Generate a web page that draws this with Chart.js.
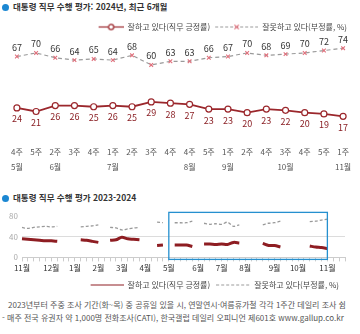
<!DOCTYPE html>
<html lang="ko">
<head>
<meta charset="utf-8">
<script src="https://cdn.jsdelivr.net/npm/chart.js@4.4.1/dist/chart.umd.min.js"></script>
<style>
  body { margin:0; width:360px; height:334px; background:#fff; position:relative; overflow:hidden;
         font-family:"Noto Sans CJK KR", sans-serif; }
  .ttl { position:absolute; left:2px; font-size:8.5px; color:#333; font-weight:600; white-space:nowrap; line-height:12px; }
  .ttl .dot { display:inline-block; width:7px; height:7px; border-radius:50%; background:#1b87d2; margin-right:4px; vertical-align:-1px; }
  #box1 { position:absolute; left:0; top:14px; width:360px; height:162px; }
  #box2 { position:absolute; left:0; top:205px; width:360px; height:94px; }
  .note { position:absolute; font-size:8px; color:#555; white-space:nowrap; line-height:11px; }
</style>
</head>
<body>
<div class="ttl" style="top:0px"><span class="dot"></span>대통령 직무 수행 평가: 2024년, 최근 6개월</div>
<div id="box1"><canvas id="recentChart"></canvas></div>
<div class="ttl" style="top:191px"><span class="dot"></span>대통령 직무 수행 평가 2023-2024</div>
<div id="box2"><canvas id="yearChart"></canvas></div>
<div class="note" style="left:8px; top:299px">2023년부터 주중 조사 기간(화~목) 중 공휴일 있을 시, 연말연시·여름휴가철 각각 1주간 데일리 조사 쉼</div>
<div class="note" style="left:2px; top:312px">- 매주 전국 유권자 약 1,000명 전화조사(CATI), 한국갤럽 데일리 오피니언 제601호 www.gallup.co.kr</div>
<script>
// 최근 6개월 (주 단위)
var weekLabels  = ['4주','5주','2주','3주','4주','1주','2주','3주','4주','4주','5주','1주','2주','4주','3주','4주','5주','1주'];
var monthLabels = ['5월','','6월','','','7월','','','','8월','','9월','','','10월','','','11월'];
var posRecent = [24,21,26,26,25,26,25,29,28,27,23,23,20,23,22,20,19,17];
var negRecent = [67,70,66,64,65,64,68,60,63,63,66,67,70,68,69,70,72,74];

// 2023.11 ~ 2024.11 주별 (조사 쉰 주는 null)
var yearMonths = ['11월','12월','1월','2월','3월','4월','5월','6월','7월','8월','9월','10월','11월'];
var weeksInMonth = [5,4,4,4,4,4,5,4,4,5,4,5,4];
var posYear = [36,35,34,33,32,32,31,null,null,null,34,33,31,29,null,33,34,39,36,35,34,null,null,23,24,null,
               24,24,24,21,null,26,26,25,26,25,29,28,null,null,null,27,23,23,20,null,23,null,null,22,20,19,17,null,null,null];
var negYear = [58,56,58,59,60,59,60,null,null,null,59,60,61,63,null,58,57,53,55,57,58,null,null,68,67,null,
               67,67,67,70,null,66,64,65,64,68,60,63,null,null,null,63,66,67,70,null,68,null,null,69,70,72,74,null,null,null];
var yTicks = [0,20,40,60,80];

var posLabel = '잘하고 있다(직무 긍정률)';
var negLabel = '잘못하고 있다(부정률, %)';

var RED = '#9b272c';
var GRAY = '#9a9a9a';
var PINK = '#e0707c';

Chart.defaults.font.family = '"Noto Sans CJK KR", sans-serif';
Chart.defaults.font.size = 8;
Chart.defaults.color = '#444';

var yearLabels = [];
var yearWeekNo = [];
yearMonths.forEach(function (m, i) {
  for (let w = 1; w <= weeksInMonth[i]; w++) {
    yearLabels.push(m + ' ' + w + '주');
    yearWeekNo.push(w === 1 ? m : '');
  }
});

// 범례 아이콘: 선 + 마커
function legendIcon(color, dash, marker, lineLen, w) {
  const c = document.createElement('canvas');
  c.width = w; c.height = 9;
  const g = c.getContext('2d');
  const x0 = w - lineLen;
  g.strokeStyle = color;
  g.lineWidth = 1.2;
  g.setLineDash(dash);
  g.beginPath(); g.moveTo(x0, 4.5); g.lineTo(w, 4.5); g.stroke();
  g.setLineDash([]);
  const cx = x0 + lineLen / 2;
  if (marker === 'circle') {
    g.fillStyle = '#fff';
    g.beginPath(); g.arc(cx, 4.5, 2.6, 0, Math.PI * 2); g.fill(); g.stroke();
  } else if (marker === 'cross') {
    g.strokeStyle = PINK;
    g.beginPath();
    g.moveTo(cx - 2.2, 2.3); g.lineTo(cx + 2.2, 6.7);
    g.moveTo(cx + 2.2, 2.3); g.lineTo(cx - 2.2, 6.7);
    g.stroke();
  }
  return c;
}

function iconLegend(chart) {
  return chart.data.datasets.map(function (ds, i) {
    return { text: ds.label, pointStyle: ds.legendIcon, fontColor: '#444',
             fillStyle: 'transparent', strokeStyle: 'transparent', lineWidth: 0,
             datasetIndex: i, hidden: false };
  });
}

// 점 위/아래 수치
const valueLabels = {
  id: 'valueLabels',
  afterDatasetsDraw(chart) {
    const ctx = chart.ctx;
    chart.data.datasets.forEach(function (ds, i) {
      const meta = chart.getDatasetMeta(i);
      ctx.save();
      ctx.font = '9px "Noto Sans CJK KR"';
      ctx.fillStyle = ds.labelColor;
      ctx.textAlign = 'center';
      ctx.textBaseline = 'middle';
      meta.data.forEach(function (pt, j) {
        ctx.fillText(ds.data[j], pt.x, pt.y + ds.labelOffset);
      });
      ctx.restore();
    });
  }
};

// 최근 6개월 구간 표시
const focusBox = {
  id: 'focusBox',
  afterDatasetsDraw(chart, args, opts) {
    const x = chart.scales.x, y = chart.scales.y, ctx = chart.ctx;
    const l = x.getPixelForValue(opts.from), r = x.getPixelForValue(opts.to);
    const t = y.getPixelForValue(opts.top), b = y.getPixelForValue(0) + 2;
    ctx.save();
    ctx.strokeStyle = '#2590cf';
    ctx.lineWidth = 1.3;
    ctx.strokeRect(l, t, r - l, b - t);
    ctx.restore();
  }
};

var configRecent = {
  type: 'line',
  data: {
    labels: weekLabels,
    datasets: [{
      label: posLabel,
      data: posRecent,
      borderColor: RED,
      borderWidth: 1.8,
      pointRadius: 3,
      pointBackgroundColor: '#fff',
      pointBorderColor: RED,
      pointBorderWidth: 1.2,
      labelColor: '#8a1f24',
      labelOffset: 11,
      legendIcon: legendIcon(RED, [], 'circle', 25, 44)
    }, {
      label: negLabel,
      data: negRecent,
      borderColor: GRAY,
      borderWidth: 1.2,
      borderDash: [4, 3],
      pointStyle: 'crossRot',
      pointRadius: 2.6,
      pointBorderColor: PINK,
      pointBorderWidth: 1.1,
      labelColor: '#333',
      labelOffset: -9,
      legendIcon: legendIcon(GRAY, [3, 2], 'cross', 43, 44)
    }]
  },
  options: {
    responsive: true,
    maintainAspectRatio: false,
    animation: false,
    layout: { padding: { left: 3, right: 9, top: 5, bottom: 0 } },
    plugins: {
      legend: {
        position: 'top',
        align: 'end',
        labels: { usePointStyle: true, pointStyleWidth: 44, padding: 4, generateLabels: iconLegend }
      },
      tooltip: { enabled: false }
    },
    scales: {
      x: {
        offset: false,
        grid: { display: false, drawTicks: false },
        border: { display: false },
        afterFit: function (scale) { scale.height = 20.6; },
        ticks: { autoSkip: false, maxRotation: 0, padding: 11, color: '#555' }
      },
      month: {
        type: 'category',
        labels: monthLabels,
        position: 'bottom',
        offset: false,
        grid: { display: false, drawTicks: false },
        border: { display: false },
        ticks: { autoSkip: false, maxRotation: 0, padding: 4.6, color: '#555' }
      },
      y: { display: false, min: 0, max: 80 }
    }
  },
  plugins: [valueLabels]
};

var configYear = {
  type: 'line',
  data: {
    labels: yearLabels,
    datasets: [{
      label: posLabel,
      data: posYear,
      borderColor: '#8e1d22',
      borderWidth: 3,
      tension: 0.3,
      pointRadius: 0,
      spanGaps: false,
      legendIcon: legendIcon('#8e1d22', [], 'none', 33, 34)
    }, {
      label: negLabel,
      data: negYear,
      borderColor: GRAY,
      borderWidth: 1.3,
      borderDash: [3, 2],
      tension: 0.3,
      pointRadius: 0,
      spanGaps: false,
      legendIcon: legendIcon(GRAY, [3, 2], 'none', 34, 34)
    }]
  },
  options: {
    responsive: true,
    maintainAspectRatio: false,
    animation: false,
    layout: { padding: { left: 2, right: 15, top: 11, bottom: 0 } },
    plugins: {
      legend: {
        position: 'bottom',
        align: 'end',
        labels: { usePointStyle: true, pointStyleWidth: 34, padding: 6, generateLabels: iconLegend }
      },
      tooltip: { enabled: false },
      focusBox: { from: 25, to: 52, top: 87 }
    },
    scales: {
      x: {
        offset: false,
        grid: { display: true, drawOnChartArea: false, tickLength: 4, color: '#ccc' },
        border: { display: true, color: '#ccc' },
        ticks: {
          autoSkip: false, maxRotation: 0, padding: 2, color: '#333',
          callback: function (v, i) { return yearWeekNo[i]; }
        }
      },
      y: {
        min: 0, max: 80,
        afterFit: function (scale) { scale.width = 20; },
        afterBuildTicks: function (scale) { scale.ticks = yTicks.map(function (v) { return { value: v }; }); },
        grid: {
          drawTicks: false,
          color: function (c) { return (c.tick.value > 0 && c.tick.value < 80) ? '#dcdcdc' : 'transparent'; }
        },
        border: { display: false },
        ticks: { padding: 4, color: '#aaa' }
      }
    }
  },
  plugins: [focusBox]
};

function showchart() {
  new Chart(document.getElementById('recentChart'), configRecent);
  new Chart(document.getElementById('yearChart'), configYear);
}
showchart();
</script>
</body>
</html>
